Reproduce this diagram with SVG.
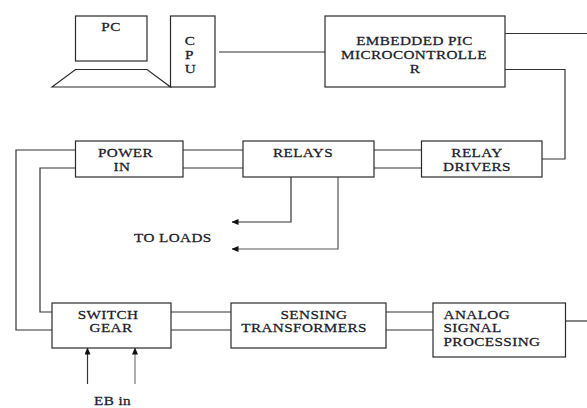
<svg xmlns="http://www.w3.org/2000/svg" width="587" height="408" viewBox="0 0 587 408">
<style>
rect,.s{fill:#fff;stroke:#2b2b2b;stroke-width:1.2}
.c path{fill:none;stroke:#333;stroke-width:1.2}
text{font-family:"Liberation Serif","Times New Roman",serif;font-size:13px;fill:#1a1a2a;stroke:#1a1a2a;stroke-width:.25;letter-spacing:.35px}
.m{text-anchor:middle}
</style>
<defs><marker id="a" markerUnits="userSpaceOnUse" markerWidth="7" markerHeight="6" refX="6.500" refY="3" orient="auto"><path d="M0 0L7 3L0 6z" fill="#111"/></marker></defs>
<rect width="587" height="408" style="fill:#fff;stroke:none"/>
<g class="c">
<path d="M219 52H325"/>
<path d="M505 33.500H587"/>
<path d="M505 69.500H565V159H542"/>
<path d="M183 150H243M183 168H243"/>
<path d="M374 150H421.500M374 168H421.500"/>
<path d="M75.500 150H16V330H52"/>
<path d="M75.500 168H40V312H52"/>
<path d="M171 312H231M171 330H231"/>
<path d="M386 312H433M386 330H433"/>
<path d="M565.500 321H587"/>
<path d="M291 177V222H232" marker-end="url(#a)"/>
<path d="M338 177V249H232" marker-end="url(#a)" style="stroke:#555"/>
<path d="M87.500 384V348" marker-end="url(#a)"/>
<path d="M135 384V348" marker-end="url(#a)" style="stroke:#777"/>
</g>
<g id="pc"><rect x="75.500" y="16" width="71.500" height="45"/><text class="m" transform="translate(111 31) scale(1.17 1)">PC</text></g>
<g id="keyboard"><path class="s" d="M52 87L75.500 69.500H147L170.500 87z"/></g>
<g id="cpu"><rect x="170.500" y="16" width="44.500" height="71"/><text class="m" transform="translate(190 45) scale(1.17 1)">C</text><text class="m" transform="translate(189.500 58.500) scale(1.17 1)">P</text><text class="m" transform="translate(190.500 72.500) scale(1.17 1)">U</text></g>
<g id="pic"><rect x="325" y="16" width="180" height="71"/><text class="m" transform="translate(414.500 45) scale(1.17 1)">EMBEDDED PIC</text><text class="m" transform="translate(414 59) scale(1.17 1)">MICROCONTROLLE</text><text class="m" transform="translate(415 72.500) scale(1.17 1)">R</text></g>
<g id="power"><rect x="75.500" y="141" width="107.500" height="36"/><text class="m" transform="translate(125.500 157) scale(1.17 1)">POWER</text><text class="m" transform="translate(122 171) scale(1.17 1)">IN</text></g>
<g id="relays"><rect x="243" y="141" width="131" height="36"/><text class="m" transform="translate(303 157) scale(1.17 1)">RELAYS</text></g>
<g id="drivers"><rect x="421.500" y="141" width="120.500" height="36"/><text class="m" transform="translate(477 157) scale(1.17 1)">RELAY</text><text class="m" transform="translate(477 171) scale(1.17 1)">DRIVERS</text></g>
<g id="loads"><text transform="translate(134 242) scale(1.17 1)">TO LOADS</text></g>
<g id="switch"><rect x="52" y="303" width="119" height="45"/><text class="m" transform="translate(108 318.500) scale(1.17 1)">SWITCH</text><text class="m" transform="translate(111 332) scale(1.17 1)">GEAR</text></g>
<g id="sensing"><rect x="231" y="303" width="155" height="45"/><text class="m" transform="translate(314 318.500) scale(1.17 1)">SENSING</text><text class="m" transform="translate(304 332) scale(1.17 1)">TRANSFORMERS</text></g>
<g id="analog"><rect x="433" y="303" width="132.500" height="54"/><text transform="translate(443.500 318.500) scale(1.17 1)">ANALOG</text><text transform="translate(443.500 332) scale(1.17 1)">SIGNAL</text><text transform="translate(443.500 346) scale(1.17 1)">PROCESSING</text></g>
<g id="eb"><text class="m" transform="translate(112.500 405) scale(1.17 1)">EB in</text></g>
</svg>
